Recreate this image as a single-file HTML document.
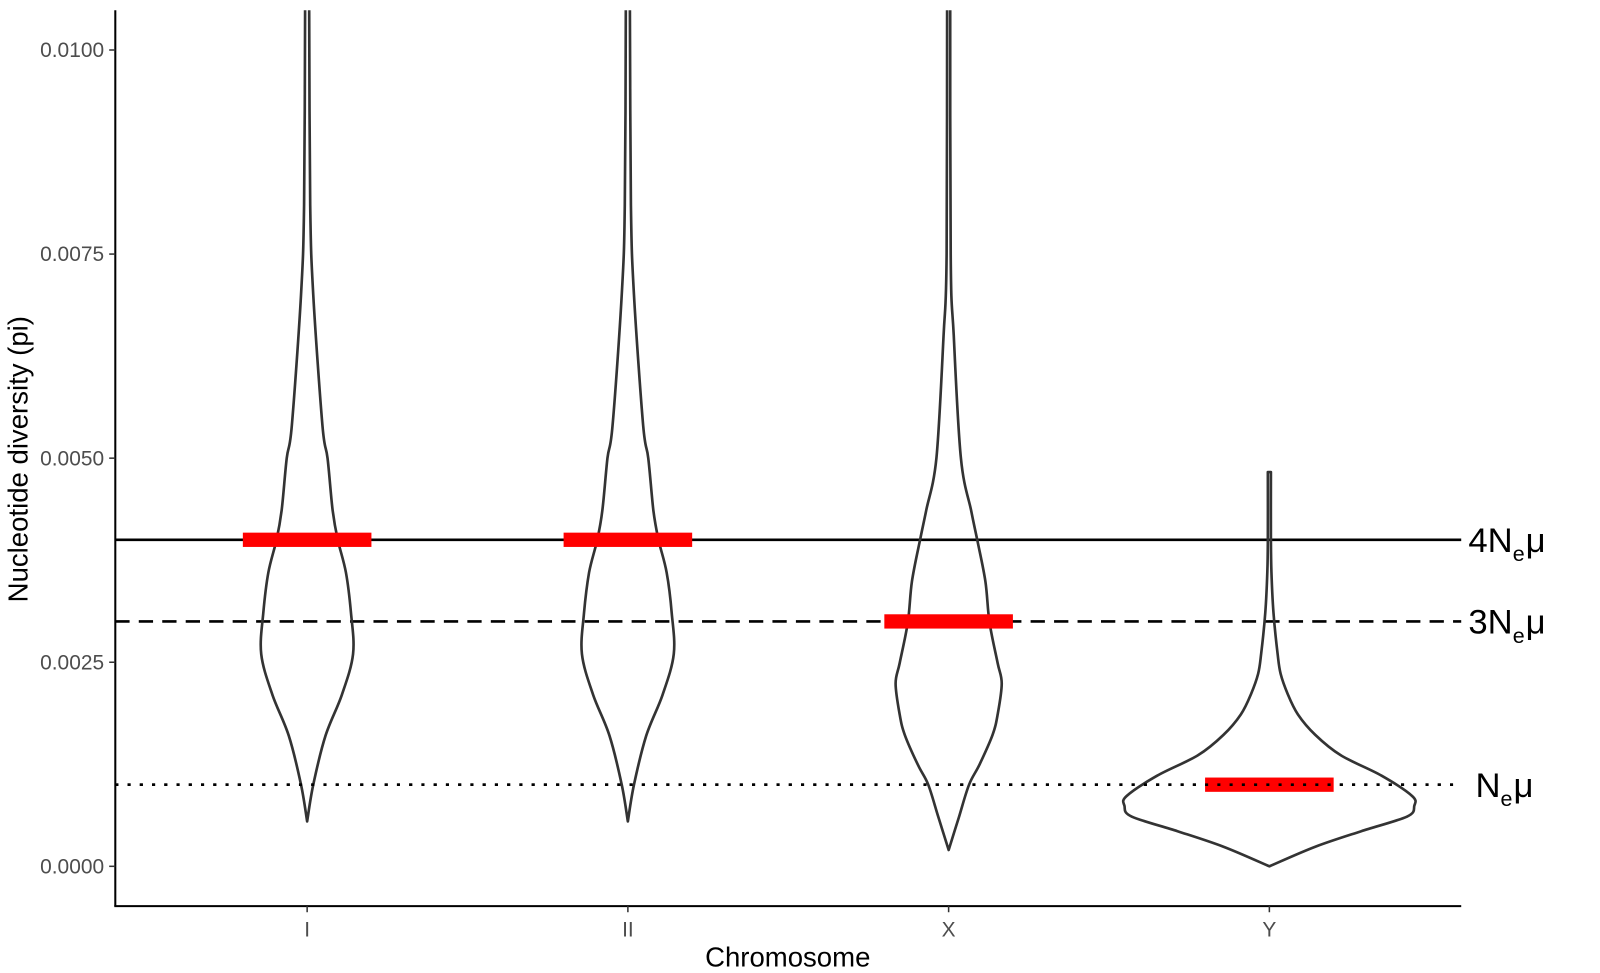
<!DOCTYPE html>
<html><head><meta charset="utf-8"><style>
body{margin:0;background:#fff;overflow:hidden;}
svg{display:block;font-family:"Liberation Sans",sans-serif;}
</style></head><body>
<svg id="chart" width="1600" height="973">
<defs><clipPath id="pc"><rect x="113" y="10" width="1320" height="878"/></clipPath></defs>
<g id="root" transform="scale(1.0204)">
<g id="marks" clip-path="url(#pc)"></g>
<g id="axes"></g>
</g>
</svg>
<script>
const categories = ["I","II","X","Y"];
const yTicks = [0,0.0025,0.005,0.0075,0.01];
const yTickLabels = ["0.0000","0.0025","0.0050","0.0075","0.0100"];
const means = [0.004,0.004,0.003,0.001];
const refValues = [0.004,0.003,0.001];
const refLabels = ["4","3",""];
// violin profiles: [value, half-width density (relative, px-scale)]
const violinI = [[0.00055,0],[0.001,6],[0.0016,18],[0.0021,34],[0.0026,45],[0.0031,43],[0.0036,38],[0.004,30],[0.00436,25],[0.005,20],[0.0054,15],[0.007,6],[0.0081,3],[0.0105,2],[0.011,2]];
const violinII = [[0.00055,0],[0.001,6],[0.0016,18],[0.0021,34],[0.0026,45],[0.0031,43],[0.0036,38],[0.004,30],[0.00436,25],[0.005,20],[0.0054,15],[0.007,6],[0.0081,3],[0.0105,2],[0.011,2]];
const violinX = [[0.0002,0],[0.0006,10],[0.001,20],[0.00124,30],[0.00161,43],[0.00186,48],[0.00224,52],[0.00249,48],[0.00299,40],[0.00349,36],[0.004,28],[0.00436,22],[0.005,12],[0.0065,5],[0.0075,2],[0.011,1.5]];
const violinY = [[0,0],[0.00024,45],[0.00043,90],[0.00061,135],[0.00074,142],[0.00086,140],[0.00111,110],[0.00136,70],[0.00161,45],[0.00186,28],[0.00211,18],[0.00236,11],[0.00261,8],[0.00311,4],[0.00361,2],[0.004,1.5],[0.00483,1.5]];
const violins = [violinI,violinII,violinX,violinY];

const NS="http://www.w3.org/2000/svg";
const L=113,R=1432,T=10,B=888;
const yS=v=>849-v*80000;
const xS=i=>301+i*314.33;
const marks=document.getElementById('marks'), axes=document.getElementById('axes');
function mk(tag,attrs,parent){const e=document.createElementNS(NS,tag);for(const k in attrs)e.setAttribute(k,attrs[k]);parent.appendChild(e);return e;}
function smooth(pts){
  let d='M'+pts[0][0].toFixed(1)+','+pts[0][1].toFixed(1);
  for(let i=0;i<pts.length-1;i++){
    const p0=pts[Math.max(0,i-1)],p1=pts[i],p2=pts[i+1],p3=pts[Math.min(pts.length-1,i+2)];
    const c1=[p1[0]+(p2[0]-p0[0])/6,p1[1]+(p2[1]-p0[1])/6];
    const c2=[p2[0]-(p3[0]-p1[0])/6,p2[1]-(p3[1]-p1[1])/6];
    d+=' C'+c1[0].toFixed(1)+','+c1[1].toFixed(1)+' '+c2[0].toFixed(1)+','+c2[1].toFixed(1)+' '+p2[0].toFixed(1)+','+p2[1].toFixed(1);
  }
  return d;
}

const dashes=["none","14,9","3,9"];
refValues.forEach((v,i)=>{
  const ln=mk('line',{x1:L,x2:R,y1:yS(v),y2:yS(v),stroke:'#000','stroke-width':2.6,'stroke-dasharray':dashes[i]},marks);
  
  
  const t=mk('text',{x:i==2?1446:1439,y:yS(v)+12,'font-size':34,fill:'#000'},axes);
  
  
  t.innerHTML=refLabels[i]+'N<tspan font-size="21" dy="9">e</tspan><tspan dy="-9" dx="1">μ</tspan>';
});

violins.forEach((prof,i)=>{
  const cx=xS(i);
  const right=prof.map(p=>[cx+p[1],yS(p[0])]);
  const left=prof.map(p=>[cx-p[1],yS(p[0])]);
  const d=smooth(right)+' '+smooth(left.slice().reverse()).replace(/^M/,'L')+'Z';
  const pa=mk('path',{d:d,fill:'none',stroke:'#333','stroke-width':2.6,'stroke-linejoin':'round'},marks);
  
  
});
means.forEach((m,i)=>{
  const r=mk('rect',{x:xS(i)-63,y:yS(m)-7,width:126,height:14,fill:'#ff0000'},marks);
  
  
});
const dl=mk('line',{x1:L,x2:R,y1:yS(refValues[2]),y2:yS(refValues[2]),stroke:'#000','stroke-width':2.6,'stroke-dasharray':dashes[2]},marks);



const ya=mk('line',{x1:L,x2:L,y1:T,y2:B,stroke:'#000','stroke-width':2},axes);

const xa=mk('line',{x1:L-1,x2:R,y1:B,y2:B,stroke:'#000','stroke-width':2},axes);

yTicks.forEach((v,i)=>{
  const tk=mk('line',{x1:L-6,x2:L,y1:yS(v),y2:yS(v),stroke:'#333','stroke-width':1.5},axes);
  
  const t=mk('text',{x:L-11,y:yS(v)+7,'font-size':20.5,fill:'#4d4d4d','text-anchor':'end'},axes);
  
  t.textContent=yTickLabels[i];
});
categories.forEach((c,i)=>{
  const tk=mk('line',{x1:xS(i),x2:xS(i),y1:B,y2:B+6,stroke:'#333','stroke-width':1.5},axes);
  
  const t=mk('text',{x:xS(i),y:B+30,'font-size':20.5,fill:'#4d4d4d','text-anchor':'middle'},axes);
  
  t.textContent=c;
});
const xt=mk('text',{x:772,y:947,'font-size':27,fill:'#000','text-anchor':'middle'},axes);

xt.textContent='Chromosome';
const yt=mk('text',{x:0,y:0,'font-size':27,fill:'#000','text-anchor':'middle',transform:'translate(27,450) rotate(-90)'},axes);

yt.textContent='Nucleotide diversity (pi)';
</script>
</body></html>
